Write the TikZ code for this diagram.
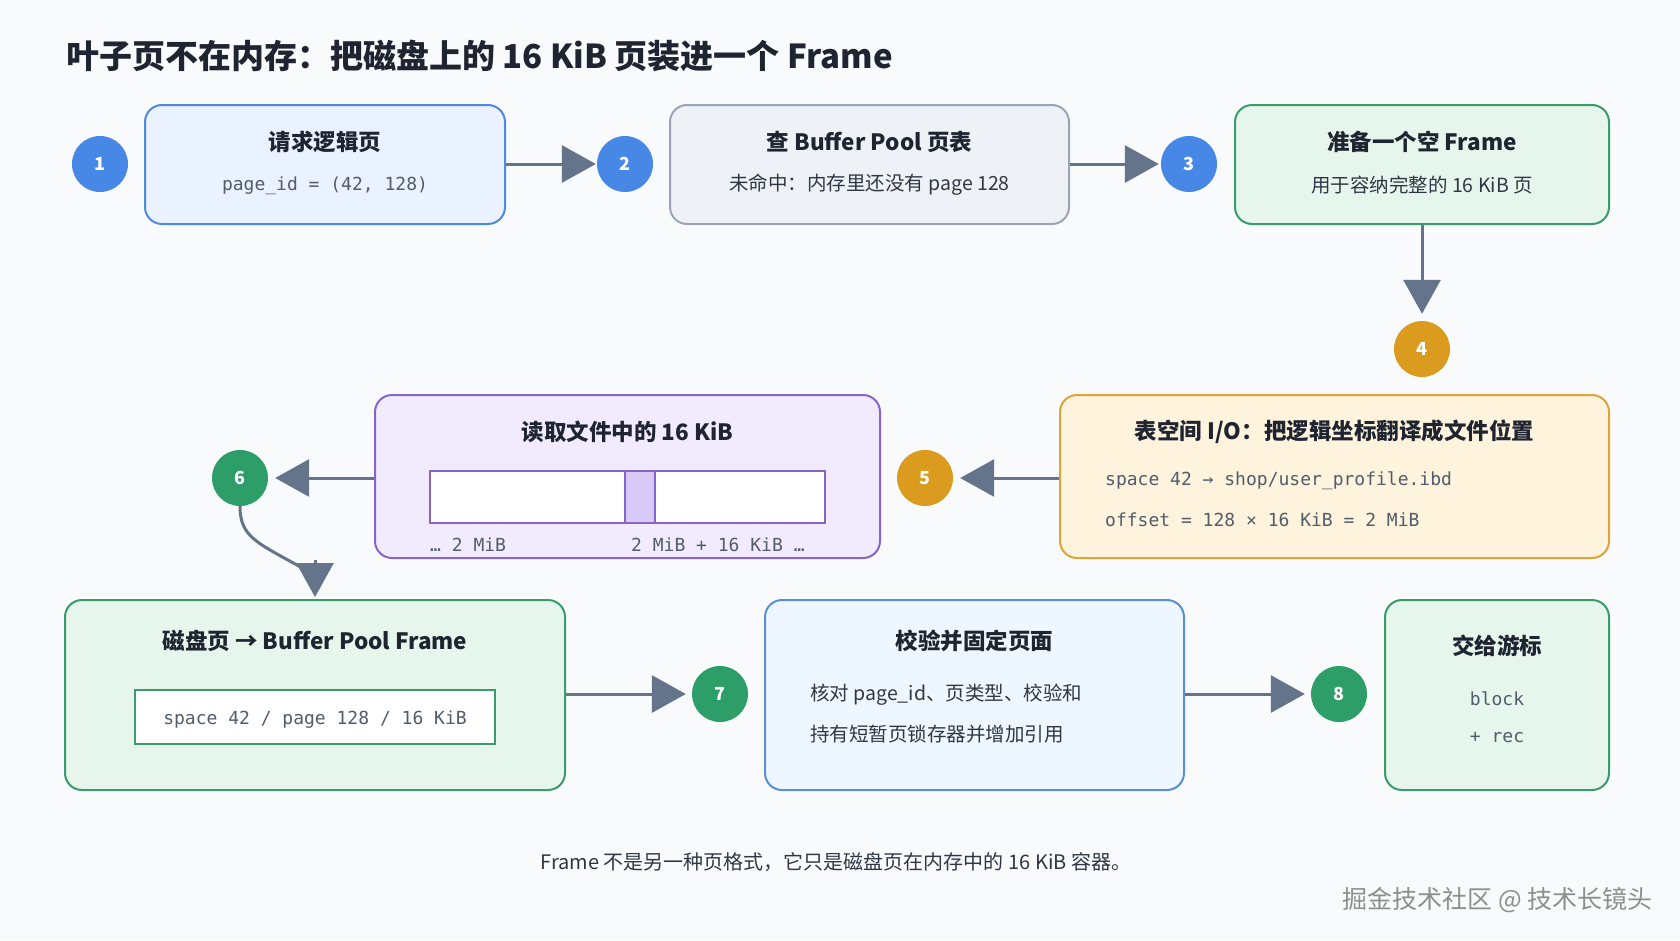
\documentclass[tikz,border=0pt]{standalone}
\usepackage{fontspec}
\setmainfont{Noto Sans CJK SC}
\newfontfamily\monof{DejaVu Sans Mono}
\usetikzlibrary{arrows.meta}
\definecolor{bg}{HTML}{F8FAFC}
\definecolor{ink}{HTML}{1E2430}
\definecolor{subink}{HTML}{2F3744}
\definecolor{monoink}{HTML}{525C6B}
\definecolor{arrowc}{HTML}{64748B}
\definecolor{blueC}{HTML}{4787E6}
\definecolor{blueF}{HTML}{E9F2FE}
\definecolor{blueB}{HTML}{4F8AE0}
\definecolor{slateF}{HTML}{EEF2F7}
\definecolor{slateB}{HTML}{9AA5B8}
\definecolor{greenC}{HTML}{2E9E68}
\definecolor{greenF}{HTML}{E7F6EC}
\definecolor{greenB}{HTML}{3A9C6C}
\definecolor{goldC}{HTML}{DB9B1E}
\definecolor{goldF}{HTML}{FEF3DD}
\definecolor{goldB}{HTML}{E0A33A}
\definecolor{purpF}{HTML}{F1EBFD}
\definecolor{purpB}{HTML}{8566C8}
\definecolor{purpH}{HTML}{D8CAF6}
\definecolor{lblueF}{HTML}{EEF6FF}
\definecolor{lblueB}{HTML}{5A8FD8}
\definecolor{wmark}{HTML}{8E8E8E}
\begin{document}
\begin{tikzpicture}[x=1pt,y=-1pt,
  card/.style={draw, line width=2pt, rounded corners=17pt, inner sep=0pt},
  num/.style={circle, minimum size=56pt, inner sep=0pt, text=white, font=\fontsize{18}{20}\selectfont\bfseries},
  ttl/.style={text=ink, font=\fontsize{22.5}{26}\selectfont\bfseries, inner sep=0pt},
  sub/.style={text=subink, font=\fontsize{19.5}{23}\selectfont, inner sep=0pt},
  mono/.style={text=monoink, font=\monof\fontsize{18}{22}\selectfont, inner sep=0pt},
  link/.style={draw=arrowc, line width=3pt},
  arr/.style={link, -{Triangle[length=34pt,width=37pt]}, shorten >=5pt}
]
\fill[bg] (0,0) rectangle (1680,940);
\useasboundingbox (0,0) rectangle (1680,940);

% title
\node[anchor=west, text=ink, font=\fontsize{33}{38}\selectfont\bfseries, inner sep=0pt] (title) at (66,56) {叶子页不在内存：把磁盘上的 16 KiB 页装进一个 Frame};

% row 1
\node[card, draw=blueB, fill=blueF, minimum width=360pt, minimum height=119pt] (b1) at (325,164.5) {};
\node[ttl] (t1) at (325,142) {请求逻辑页};
\node[mono] (m1) at (325,186) {page\_id = (42, 128)};

\node[card, draw=slateB, fill=slateF, minimum width=399pt, minimum height=119pt] (b2) at (869.5,164.5) {};
\node[ttl] (t2) at (869.5,142) {查 Buffer Pool 页表};
\node[sub] (s2) at (869.5,185) {未命中：内存里还没有 page 128};

\node[card, draw=greenB, fill=greenF, minimum width=374pt, minimum height=119pt] (b3) at (1422,164.5) {};
\node[ttl] (t3) at (1422,142) {准备一个空 Frame};
\node[sub] (s3) at (1422,185) {用于容纳完整的 16 KiB 页};

\node[num, fill=blueC] (c1) at (100,164) {1};
\node[num, fill=blueC] (c2) at (625,164) {2};
\node[num, fill=blueC] (c3) at (1189,164) {3};
\node[num, fill=goldC] (c4) at (1422,349) {4};

% row 2
\node[card, draw=goldB, fill=goldF, minimum width=549pt, minimum height=163pt] (b5) at (1334.5,476.5) {};
\node[ttl] (t5) at (1334.5,432) {表空间 I/O：把逻辑坐标翻译成文件位置};
\node[mono, anchor=west] (m5a) at (1105,481) {space 42 → shop/user\_profile.ibd};
\node[mono, anchor=west] (m5b) at (1105,520) {offset = 128 × 16 KiB = 2 MiB};

\node[card, draw=purpB, fill=purpF, minimum width=505pt, minimum height=163pt] (b4) at (627.5,476.5) {};
\node[ttl] (t4) at (627.5,432) {读取文件中的 16 KiB};
\node[draw=purpB, line width=2pt, fill=white, minimum width=395pt, minimum height=52pt, inner sep=0pt] (bar) at (627.5,497) {};
\node[draw=purpB, line width=1.5pt, fill=purpH, minimum width=30pt, minimum height=52pt, inner sep=0pt] (hl) at (640,497) {};
\node[mono, anchor=west] (l1) at (430,545) {… 2 MiB};
\node[mono, anchor=west] (l2) at (631,545) {2 MiB + 16 KiB …};

\node[num, fill=goldC] (c5) at (925,478) {5};
\node[num, fill=greenC] (c6) at (240,478) {6};

% row 3
\node[card, draw=greenB, fill=greenF, minimum width=500pt, minimum height=190pt] (b6) at (315,695) {};
\node[ttl] (t6) at (315,641) {磁盘页 → Buffer Pool Frame};
\node[draw=greenB, line width=2pt, fill=white, minimum width=360pt, minimum height=54pt, inner sep=0pt] (inner) at (315,717) {};
\node[mono] (m6) at (315,720) {space 42 / page 128 / 16 KiB};

\node[card, draw=lblueB, fill=lblueF, minimum width=419pt, minimum height=190pt] (b7) at (974.5,695) {};
\node[ttl] (t7) at (974.5,641) {校验并固定页面};
\node[sub, anchor=west] (s7a) at (810,695) {核对 page\_id、页类型、校验和};
\node[sub, anchor=west] (s7b) at (810,734) {持有短暂页锁存器并增加引用};

\node[card, draw=greenB, fill=greenF, minimum width=224pt, minimum height=190pt] (b8) at (1497,695) {};
\node[ttl] (t8) at (1497,646) {交给游标};
\node[mono] (m8a) at (1497,699) {block};
\node[mono] (m8b) at (1497,737) {+ rec};

\node[num, fill=greenC] (c7) at (720,694) {7};
\node[num, fill=greenC] (c8) at (1339,694) {8};

% connectors
\draw[arr, shorten >=1pt] (b1.east |- c2.center) -- (c2.west);
\draw[arr, shorten >=2pt] (b2.east |- c3.center) -- (c3.west);
\draw[arr, shorten >=7pt] (b3.south) -- (c4.north);
\draw[arr, shorten >=7pt] (b5.west |- c5.center) -- (c5.east);
\draw[arr, shorten >=7pt] (b4.west |- c6.center) -- (c6.east);
\coordinate (k6) at (315,560);
\draw[link, line cap=round] (c6.south) .. controls (240,538) and (258,543) .. (306,570);
\draw[arr, shorten >=2pt] (k6) -- (b6.north);
\draw[arr, shorten >=6pt] (b6.east |- c7.center) -- (c7.west);
\draw[arr, shorten >=6pt] (b7.east |- c8.center) -- (c8.west);

% footer
\node[text=subink, font=\fontsize{20}{24}\selectfont, inner sep=0pt] (foot) at (836,862) {Frame 不是另一种页格式，它只是磁盘页在内存中的 16 KiB 容器。};
\node[anchor=east, text=wmark, font=\fontsize{25}{29}\selectfont, inner sep=0pt] (wm) at (1653,900) {掘金技术社区 @ 技术长镜头};
\end{tikzpicture}
\end{document}
